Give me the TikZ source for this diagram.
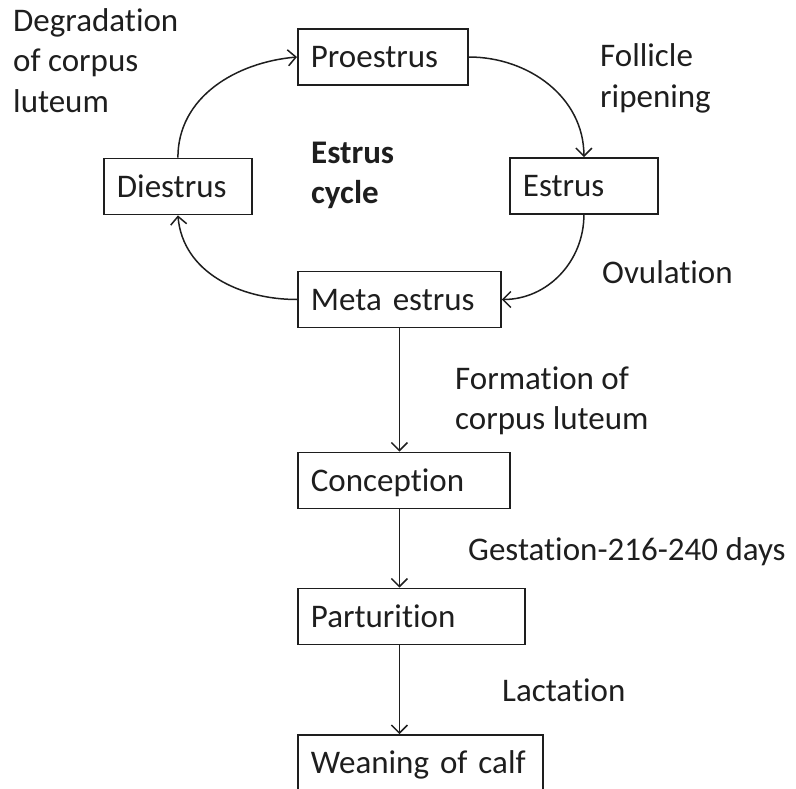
\documentclass[tikz,border=0pt]{standalone}
\usepackage{fontspec}
\setmainfont{Carlito}[Ligatures=NoCommon]
\usetikzlibrary{arrows.meta}
\definecolor{ink}{RGB}{30,30,30}
\begin{document}
\begin{tikzpicture}[x=1bp,y=-1bp,
  every node/.style={font=\fontsize{33bp}{40bp}\selectfont, text=ink},
  box/.style={draw=ink, line width=1.8bp, anchor=west, inner xsep=13bp, inner ysep=0pt,
    text height=21bp, text depth=0bp, minimum height=56bp, align=left},
  lbl/.style={anchor=base west, inner sep=0pt, align=left},
  conn/.style={draw=ink, line width=1.5bp, -{Straight Barb[length=8bp,width=16bp,line width=1.5bp]}}]
\useasboundingbox (0,0) rectangle (796,789);
% boxes
\node[box, text width=144bp] (pro) at (297,57) {Proestrus};
\node[box, text width=122bp] (est) at (509,186) {Estrus};
\node[box, text width=122bp] (die) at (103,186.5) {Diestrus};
\node[box, text width=177bp] (meta) at (297,299.5) {Meta estrus};
\node[box, text width=186bp] (con) at (297,480.5) {Conception};
\node[box, text width=201bp] (par) at (297,616.5) {Parturition};
\node[box, text width=219bp] (wea) at (297,763) {Weaning of calf};
% labels (base anchor = baseline of the last line)
\node[lbl] (deg) at (13,112) {Degradation\\of corpus\\luteum};
\node[lbl, font=\fontsize{33bp}{40bp}\selectfont\bfseries] (cyc) at (311,203) {Estrus\\cycle};
\node[lbl] (fol) at (600,107) {Follicle\\ripening};
\node[lbl] (ovu) at (602,283) {Ovulation};
\node[lbl] (form) at (455,429) {Formation of\\corpus luteum};
\node[lbl] (gest) at (468,560) {Gestation-216-240 days};
\node[lbl] (lac) at (502,701) {Lactation};
% cycle connectors
\draw[conn] (die.north) to[out=90,in=185] (pro.west);
\draw[conn] (pro.east) to[out=0,in=90] (est.north);
\draw[conn] (est.south) to[out=-90,in=0] (meta.east);
\draw[conn] (meta.west) to[out=180,in=-85] (die.south);
% vertical connectors
\draw[conn] (meta.south) -- (meta.south |- con.north);
\draw[conn] (meta.south |- con.south) -- (meta.south |- par.north);
\draw[conn] (meta.south |- par.south) -- (meta.south |- wea.north);
\end{tikzpicture}
\end{document}
